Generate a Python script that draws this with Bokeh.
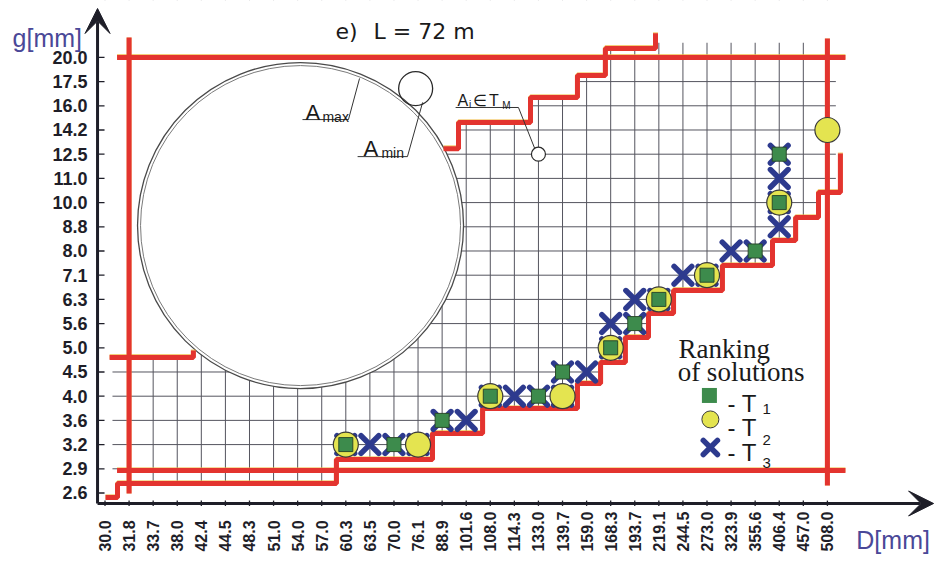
import math
from bokeh.plotting import figure
from bokeh.models import Range1d, Label, Arrow, VeeHead
from bokeh.embed import file_html
from bokeh.resources import INLINE
from bokeh.core.properties import value

# ---------------- data ----------------
D_labels = ["30.0", "31.8", "33.7", "38.0", "42.4", "44.5", "48.3", "51.0", "54.0", "57.0",
            "60.3", "63.5", "70.0", "76.1", "88.9", "101.6", "108.0", "114.3", "133.0", "139.7",
            "159.0", "168.3", "193.7", "219.1", "244.5", "273.0", "323.9", "355.6", "406.4",
            "457.0", "508.0"]
g_labels = ["2.6", "2.9", "3.2", "3.6", "4.0", "4.5", "5.0", "5.6", "6.3", "7.1", "8.0", "8.8",
            "10.0", "11.0", "12.5", "14.2", "16.0", "17.5", "20.0"]

# Ranking of solutions
T1_D = ["60.3", "70.0", "88.9", "108.0", "133.0", "139.7", "168.3", "193.7", "219.1", "273.0",
        "355.6", "406.4", "406.4"]
T1_g = ["3.2", "3.2", "3.6", "4.0", "4.0", "4.5", "5.0", "5.6", "6.3", "7.1", "8.0", "10.0", "12.5"]

T2_D = ["60.3", "76.1", "108.0", "139.7", "168.3", "219.1", "273.0", "406.4", "508.0"]
T2_g = ["3.2", "3.2", "4.0", "4.0", "5.0", "6.3", "7.1", "10.0", "14.2"]

T3_D = ["60.3", "63.5", "70.0", "76.1", "88.9", "101.6", "108.0", "114.3", "133.0", "139.7",
        "139.7", "159.0", "168.3", "168.3", "193.7", "193.7", "219.1", "244.5", "273.0", "323.9",
        "355.6", "406.4", "406.4", "406.4", "406.4"]
T3_g = ["3.2", "3.2", "3.2", "3.2", "3.6", "3.6", "4.0", "4.0", "4.0", "4.0", "4.5", "4.5", "5.0",
        "5.6", "5.6", "6.3", "6.3", "7.1", "7.1", "8.0", "8.0", "8.8", "10.0", "11.0", "12.5"]

# example point A_i in T_M
Ai_D, Ai_g = "133.0", "12.5"

# limits (box) of the admissible set
D_min, D_max = "31.8", "508.0"
g_min, g_max = "2.9", "20.0"

# boundary step lines, in category-index units
lower_x = [0.02, 0.52, 9.61, 13.6, 15.68, 19.62, 20.58, 21.61, 22.57, 23.61, 25.64, 27.72,
           28.68, 29.63, 30.54]
lower_y = [-0.19, 0.39, 1.38, 2.46, 3.49, 4.52, 5.39, 6.43, 7.42, 8.37, 9.40, 10.43, 11.38,
           12.42, 14.03]
upper_x = [14.06, 14.68, 17.67, 19.62, 20.78, 22.86]
upper_y = [14.23, 15.31, 16.34, 17.25, 18.37, 19.0]
left_x = [0.19, 3.67]
left_y = [5.60, 5.89]

# ---------------- style ----------------
RED = "#e3342f"
EDGE = "#f0b840"
GRID = "#55555f"
DARK = "#1e1e28"
BLUE_T = "#4a4898"
GREEN = "#3d8b4c"
YELLOW = "#e4e450"
XBLUE = "#2d3a8e"
SANS = "Liberation Sans"

# plotting area in category-index units (whole canvas is the frame)
XL, XR = -4.340, 34.489
YB, YT = -2.955, 20.351
AX_X, AX_Y = -0.31, -0.434       # where the two axes cross
X_TIP, Y_TIP = 34.41, 20.02      # arrow tips
EDGE_DY = 0.035                  # print mis-registration of the yellow ink

p = figure(width=935, height=564, x_range=Range1d(XL, XR), y_range=Range1d(YB, YT),
           output_backend="svg", toolbar_location=None, title=None,
           x_axis_location=None, y_axis_location=None, min_border=0)
p.outline_line_color = None
p.xgrid.visible = False
p.ygrid.visible = False
p.background_fill_color = "white"
p.border_fill_color = "white"

xi = {d: i for i, d in enumerate(D_labels)}
yi = {g: i for i, g in enumerate(g_labels)}
nx, ny = len(D_labels), len(g_labels)

# grid (clipped to the admissible region by a white mask)
p.multi_line(xs=[[i, i] for i in range(nx)], ys=[[AX_Y, YT]] * nx, line_color=GRID, line_width=1)
p.multi_line(xs=[[AX_X, XR]] * ny, ys=[[j, j] for j in range(ny)], line_color=GRID, line_width=1)


def step_pts(xs, ys):
    px, py = [xs[0]], [ys[0]]
    for k in range(1, len(xs)):
        px += [xs[k], xs[k]]
        py += [ys[k - 1], ys[k]]
    return px, py


grid_left, grid_right, grid_top = 0.31, 30.35, 18.6
hx, hy = step_pts(lower_x[1:-1], lower_y[1:-1])
hx[0] = grid_left
hx += [grid_right, grid_right]
hy += [lower_y[-2], grid_top]
ux, uy = step_pts(upper_x, upper_y)
hx += [upper_x[-1]] + ux[-2::-1]
hy += [grid_top] + uy[-2::-1]
hx += [left_x[-1], left_x[-1], grid_left]
hy += [upper_y[0], left_y[0], left_y[0]]
outer_x = [XL - 1, XR + 1, XR + 1, XL - 1]
outer_y = [YB - 1, YB - 1, YT + 1, YT + 1]
p.multi_polygons(xs=[[[outer_x, hx]]], ys=[[[outer_y, hy]]], fill_color="white", line_color=None)

# big pipe cross-section (A_max) and small one (A_min)
big_c = (8.12, 11.05)
p.scatter([big_c[0]], [big_c[1]], marker="circle", size=326, fill_color="white",
          line_color="#4a4a4a", line_width=1.3)
p.scatter([big_c[0]], [big_c[1]], marker="circle", size=320, fill_color=None,
          line_color="#7a7a7a", line_width=1)
p.scatter([12.9], [16.71], marker="circle", size=34, fill_color=None,
          line_color="#2a2a2a", line_width=1.3)

# red limit lines (with a faint yellow edge underneath)
seg_v = dict(x0=[xi[D_min], xi[D_max]], y0=[-0.02, 0.31], x1=[xi[D_min], xi[D_max]],
             y1=[18.82, 18.78])
seg_h = dict(x0=[0.5, 0.5], y0=[yi[g_min] - 0.07, yi[g_max]], x1=[30.75, 30.75],
             y1=[yi[g_min] - 0.07, yi[g_max]])
steps = [(lower_x, lower_y), (upper_x, upper_y), (left_x, left_y)]
for dy, col, alpha in ((EDGE_DY, EDGE, 0.7), (0.0, RED, 1.0)):
    p.segment(x0=seg_h["x0"], x1=seg_h["x1"], y0=[v + dy for v in seg_h["y0"]],
              y1=[v + dy for v in seg_h["y1"]], line_color=col, line_width=5, line_alpha=alpha)
    for sx, sy in steps:
        p.step(sx, [v + dy for v in sy], mode="after", line_color=col, line_width=5,
               line_alpha=alpha)
    p.segment(**seg_v, line_color=col, line_width=5, line_alpha=alpha)

# leader lines
p.line([8.2, 10.11, 10.57], [15.43, 15.43, 17.13], line_color="#333333", line_width=1)
p.line([10.49, 12.56, 13.19], [13.9, 13.9, 16.14], line_color="#333333", line_width=1)
p.line([14.56, 17.17, 17.88], [15.93, 15.93, 14.15], line_color="#333333", line_width=1)
p.scatter([xi[Ai_D]], [yi[Ai_g]], marker="circle", size=14, fill_color="white",
          line_color="#2a2a2a", line_width=1.2)

# solutions
p.scatter([xi[d] for d in T3_D], [yi[g] for g in T3_g], marker="x", size=25,
          line_color=XBLUE, line_width=5.5, line_cap="round")
p.scatter([xi[d] for d in T2_D], [yi[g] for g in T2_g], marker="circle", size=25,
          fill_color=YELLOW, line_color="#3a3a3a", line_width=1.2)
p.scatter([xi[d] for d in T1_D], [yi[g] for g in T1_g], marker="square", size=14,
          fill_color=GREEN, line_color="#2b4b2b", line_width=1)

# legend markers
p.scatter([25.1], [4.03], marker="square", size=15, fill_color=GREEN, line_color=None)
p.scatter([25.14], [3.04], marker="circle", size=17, fill_color=YELLOW, line_color="#3a3a3a",
          line_width=1)
p.scatter([25.14], [1.88], marker="x", size=20, line_color=XBLUE, line_width=5.5,
          line_cap="round")

# axes: arrows, ticks, tick labels
p.add_layout(Arrow(x_start=AX_X, y_start=AX_Y, x_end=AX_X, y_end=Y_TIP, line_color=DARK,
                   line_width=3, end=VeeHead(size=25, fill_color=DARK, line_color=DARK)))
p.add_layout(Arrow(x_start=AX_X, y_start=AX_Y, x_end=X_TIP, y_end=AX_Y, line_color=DARK,
                   line_width=3, end=VeeHead(size=25, fill_color=DARK, line_color=DARK)))
p.segment(x0=[AX_X] * ny, y0=list(range(ny)), x1=[AX_X + 0.29] * ny, y1=list(range(ny)),
          line_color=DARK, line_width=1.3)
p.segment(x0=list(range(nx)), y0=[AX_Y + 0.12] * nx, x1=list(range(nx)), y1=[AX_Y - 0.1] * nx,
          line_color=DARK, line_width=1.3)
p.text(x=[AX_X - 0.415] * ny, y=list(range(ny)), text=g_labels, text_align="right",
       text_baseline="middle", text_font=value(SANS), text_font_size=value("18px"),
       text_font_style="bold", text_color=DARK)
p.text(x=list(range(nx)), y=[-2.42] * nx, text=D_labels, angle=math.pi / 2, text_align="left",
       text_baseline="middle", text_font=value(SANS), text_font_size=value("16px"),
       text_font_style="bold", text_color=DARK)


def lab(x, y, text, size, font=SANS, color="#1a1a1a", style="normal"):
    p.add_layout(Label(x=x, y=y, text=text, text_font=font, text_font_size=f"{size}px",
                       text_color=color, text_font_style=style, text_baseline="alphabetic",
                       text_align="left"))


lab(-3.84, 18.82, "g[mm]", 25, color=BLUE_T)
lab(31.2, -1.96, "D[mm]", 25, color=BLUE_T)
lab(9.57, 19.07, "e)", 22, font="DejaVu Sans")
lab(11.15, 19.07, "L = 72 m", 22, font="DejaVu Sans")

lab(8.33, 15.72, "A", 22)
lab(9.03, 15.52, "max", 14)
lab(10.73, 14.24, "A", 22)
lab(11.48, 14.03, "min", 14)
lab(14.64, 16.22, "A", 16)
lab(15.12, 16.05, "i", 10)
lab(15.28, 16.22, "∈", 16)
lab(15.95, 16.22, "T", 16)
lab(16.5, 16.01, "M", 10)

lab(23.82, 5.97, "Ranking", 27, font="Liberation Serif")
lab(23.78, 4.98, "of solutions", 27, font="Liberation Serif")
lab(25.85, 3.70, "- T", 24)
lab(27.3, 3.49, "1", 15)
lab(25.85, 2.71, "- T", 24)
lab(27.3, 2.17, "2", 15)
lab(25.85, 1.67, "- T", 24)
lab(27.3, 1.22, "3", 15)

open("out.html", "w").write(file_html(p, INLINE))
